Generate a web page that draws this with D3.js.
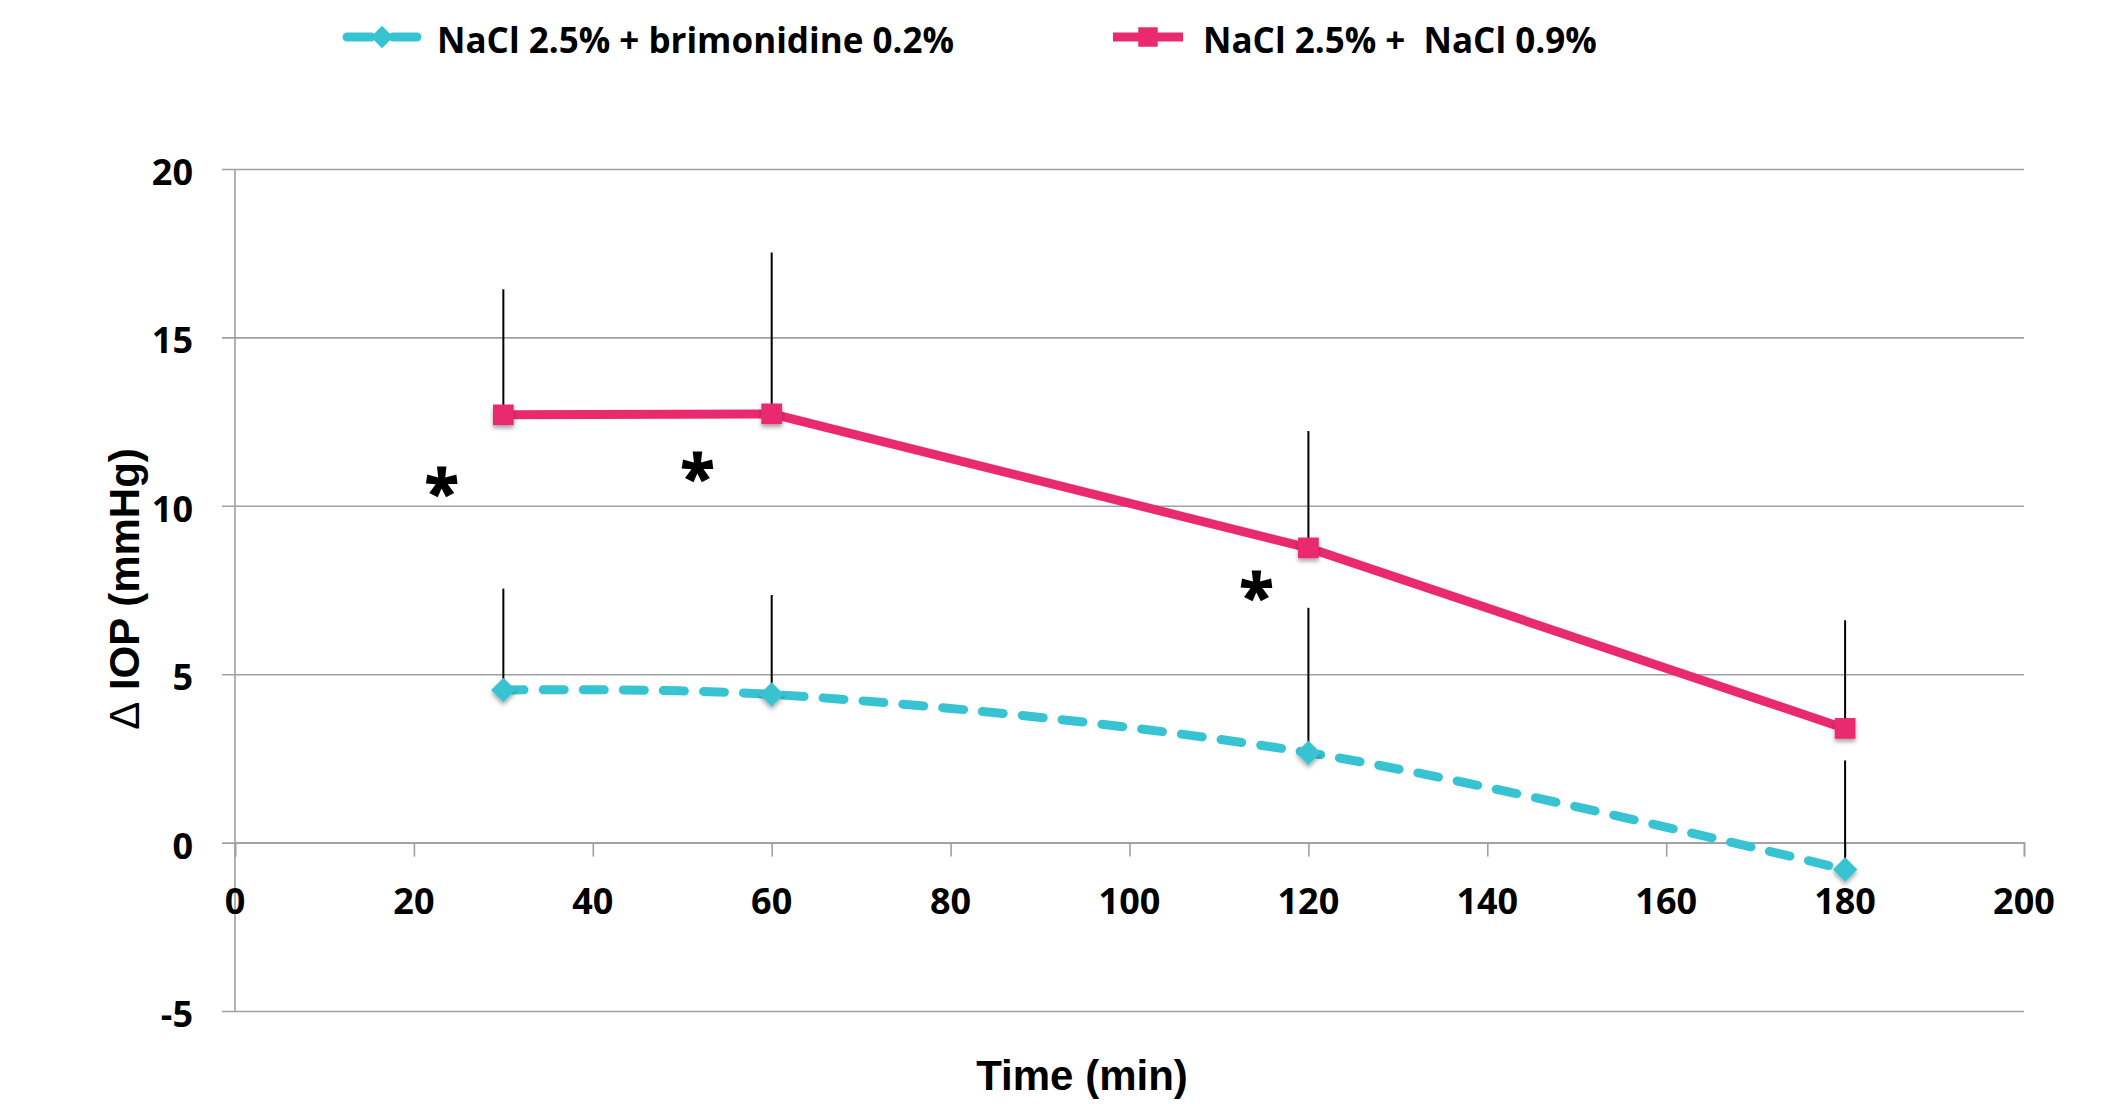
<!DOCTYPE html>
<html>
<head>
<meta charset="utf-8">
<script src="https://cdn.jsdelivr.net/npm/d3@7"></script>
<style>
    body { margin: 0; background: #fff; }
    text { font-family: "Open Sans", Lato, sans-serif; font-weight: bold; fill: #000; }
</style>
</head>
<body>
<svg id="chart"></svg>
<script>
// Time points (min)
const times = [30, 60, 120, 180];

// NaCl 2.5% + brimonidine 0.2%
const brimMean = [4.53, 4.40, 2.67, -0.80];
const brimErr = [3.01, 2.95, 4.30, 3.24];

// NaCl 2.5% + NaCl 0.9%
const salineMean = [12.70, 12.73, 8.75, 3.39];
const salineErr = [3.73, 4.79, 3.47, 3.21];

// Significance marks (time, level)
const sigTime = [23.1, 51.7, 114.2];
const sigLevel = [10.66, 11.08, 7.56];

// Axis ticks
const xTicks = [0, 20, 40, 60, 80, 100, 120, 140, 160, 180, 200];
const yTicks = [-5, 0, 5, 10, 15, 20];

const seriesNames = ['NaCl 2.5% + brimonidine 0.2%', 'NaCl 2.5% +  NaCl 0.9%'];
const cyan = '#38C3D3', pink = '#EA2A6E', grid = '#a0a0a0';

const width = 2106, height = 1104;
const margin = { left: 235, right: 82, top: 169, bottom: 93 };

const svg = d3.select('#chart')
    .attr('width', width)
    .attr('height', height);

// soft shadow under the markers
svg.append('defs').append('filter')
    .attr('id', 'shadow')
    .attr('x', '-50%').attr('y', '-50%').attr('width', '200%').attr('height', '200%')
    .append('feDropShadow')
        .attr('dx', 0).attr('dy', 3)
        .attr('stdDeviation', 2)
        .attr('flood-color', '#000')
        .attr('flood-opacity', 0.35);

const x = d3.scaleLinear().domain([0, 200]).range([margin.left, width - margin.right]);
const y = d3.scaleLinear().domain([-5, 20]).range([height - margin.bottom, margin.top]);

// Horizontal gridlines + y ticks
svg.append('g')
    .attr('transform', `translate(${x(0)},0)`)
    .call(d3.axisLeft(y).tickValues(yTicks).tickSize(-(x(200) - x(0))).tickPadding(0).tickFormat(''))
    .call(g => g.select('.domain').remove())
    .call(g => g.selectAll('.tick line')
        .attr('x1', -13)
        .attr('stroke', grid)
        .attr('stroke-width', 1.6));

// y tick labels
svg.append('g')
    .selectAll('text')
    .data(yTicks)
    .enter().append('text')
        .attr('x', 193)
        .attr('y', d => y(d) + 16)
        .attr('text-anchor', 'end')
        .style('font-size', '36px')
        .text(d => d);

// y axis line
svg.append('line')
    .attr('x1', x(0)).attr('x2', x(0))
    .attr('y1', y(20)).attr('y2', y(-5))
    .attr('stroke', grid)
    .attr('stroke-width', 1.6);

// x axis at zero
svg.append('g')
    .attr('transform', `translate(0,${y(0)})`)
    .call(d3.axisBottom(x).tickValues(xTicks).tickSize(14).tickFormat(''))
    .call(g => g.select('.domain').attr('stroke', grid).attr('stroke-width', 1.6))
    .call(g => g.selectAll('.tick line').attr('stroke', grid).attr('stroke-width', 1.6));

svg.append('g')
    .selectAll('text')
    .data(xTicks)
    .enter().append('text')
        .attr('x', d => x(d))
        .attr('y', y(0) + 71)
        .attr('text-anchor', 'middle')
        .style('font-size', '36px')
        .text(d => d);

// Error bars (upper only)
function errorBars(mean, err) {
    svg.append('g')
        .selectAll('line')
        .data(times)
        .enter().append('line')
            .attr('x1', d => x(d)).attr('x2', d => x(d))
            .attr('y1', (d, i) => y(mean[i]))
            .attr('y2', (d, i) => y(mean[i] + err[i]))
            .attr('stroke', '#000')
            .attr('stroke-width', 2);
}
errorBars(brimMean, brimErr);
errorBars(salineMean, salineErr);

// Lines
svg.append('path')
    .datum(times)
    .attr('fill', 'none')
    .attr('stroke', cyan)
    .attr('stroke-width', 9)
    .attr('stroke-linecap', 'round')
    .attr('stroke-dasharray', '21 19')
    .attr('d', d3.line().x(d => x(d)).y((d, i) => y(brimMean[i])).curve(d3.curveCatmullRom.alpha(0.5)));

svg.append('path')
    .datum(times)
    .attr('fill', 'none')
    .attr('stroke', pink)
    .attr('stroke-width', 9)
    .attr('d', d3.line().x(d => x(d)).y((d, i) => y(salineMean[i])));

// Markers
const diamond = d3.symbol().type(d3.symbolDiamond2).size(380);
const square = d3.symbol().type(d3.symbolSquare).size(430);

svg.append('g')
    .selectAll('path')
    .data(times)
    .enter().append('path')
        .attr('d', diamond)
        .attr('transform', (d, i) => `translate(${x(d)},${y(brimMean[i])})`)
        .attr('fill', cyan)
        .attr('filter', 'url(#shadow)');

svg.append('g')
    .selectAll('path')
    .data(times)
    .enter().append('path')
        .attr('d', square)
        .attr('transform', (d, i) => `translate(${x(d)},${y(salineMean[i])})`)
        .attr('fill', pink)
        .attr('filter', 'url(#shadow)');

// Significance asterisks
svg.append('g')
    .selectAll('text')
    .data(sigTime)
    .enter().append('text')
        .attr('x', d => x(d))
        .attr('y', (d, i) => y(sigLevel[i]) + 31)
        .attr('text-anchor', 'middle')
        .style('font-size', '64px')
        .style('font-weight', 800)
        .text('*');

// Axis titles
svg.append('text')
    .attr('x', 1082)
    .attr('y', 1090)
    .attr('text-anchor', 'middle')
    .style('font-family', '"Liberation Sans", Arial, sans-serif')
    .style('font-size', '42px')
    .text('Time (min)');

const yTitle = svg.append('text')
    .attr('transform', 'translate(139,589) rotate(-90)')
    .attr('text-anchor', 'middle')
    .style('font-family', '"Liberation Sans", Arial, sans-serif')
    .style('font-size', '42px');
yTitle.append('tspan').style('font-weight', 'normal').text('Δ');
yTitle.append('tspan').text(' IOP (mmHg)');

// Legend
const legend = svg.append('g');
const legendX = [347, 1113];
const legendColors = [cyan, pink];
const legendSymbols = [d3.symbol().type(d3.symbolDiamond2).size(320), d3.symbol().type(d3.symbolSquare).size(380)];

seriesNames.forEach((name, i) => {
    legend.append('line')
        .attr('x1', legendX[i]).attr('x2', legendX[i] + 70)
        .attr('y1', 37).attr('y2', 37)
        .attr('stroke', legendColors[i])
        .attr('stroke-width', 9)
        .attr('stroke-linecap', i === 0 ? 'round' : 'butt')
        .attr('stroke-dasharray', i === 0 ? '24 22' : null);
    legend.append('path')
        .attr('d', legendSymbols[i])
        .attr('transform', `translate(${legendX[i] + 35},37)`)
        .attr('fill', legendColors[i]);
    legend.append('text')
        .attr('x', legendX[i] + 90)
        .attr('y', 53)
        .style('font-size', '35px')
        .style('white-space', 'pre')
        .text(name);
});
</script>
</body>
</html>
